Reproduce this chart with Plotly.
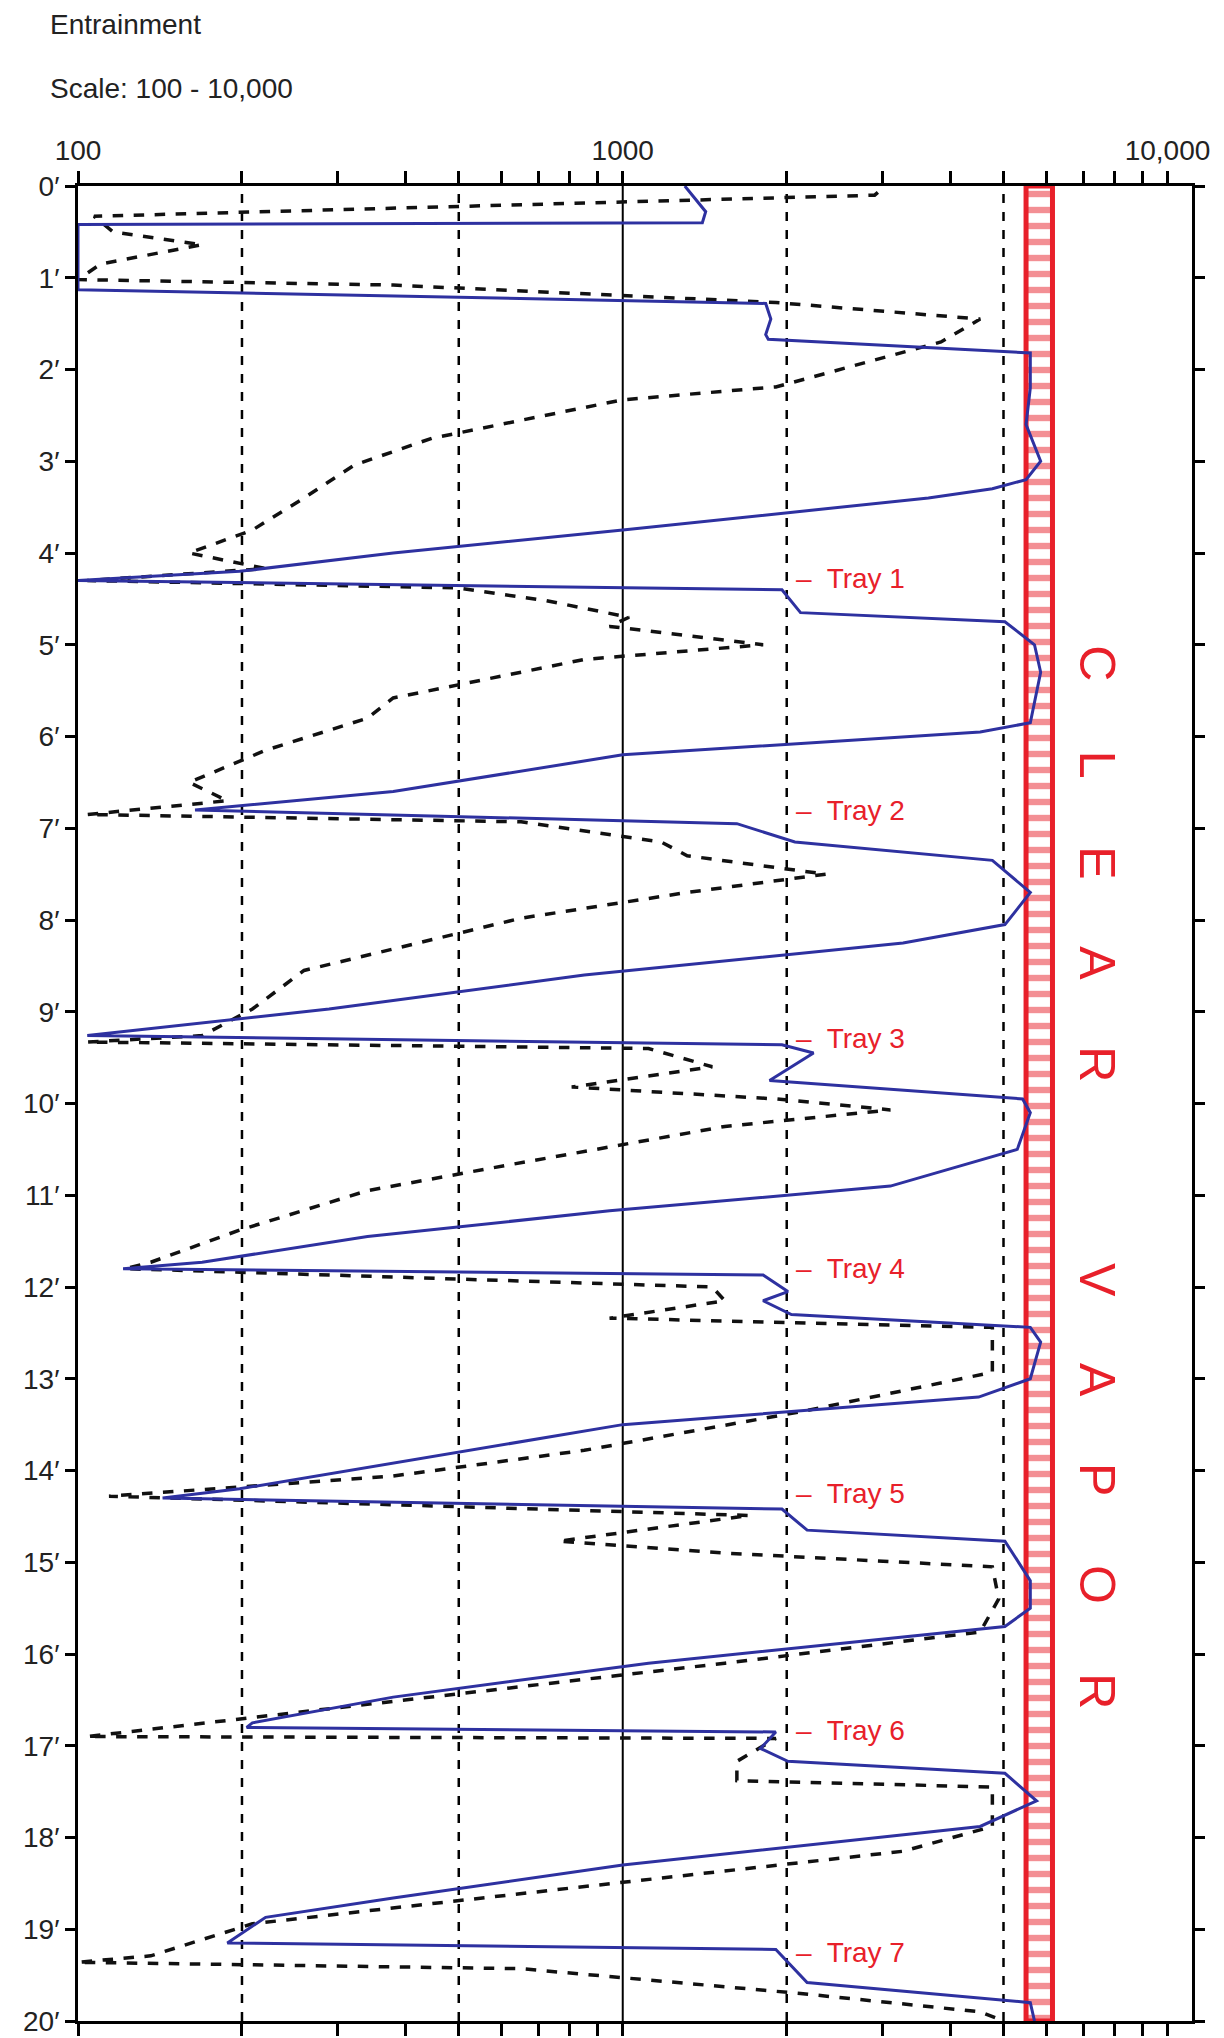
import plotly.graph_objects as go

# solid curve: depth (ft) and entrainment
solid_depth = [0.0, 0.28, 0.40, 0.42, 1.13, 1.28, 1.45, 1.62, 1.67, 1.82, 2.2, 2.6, 3.0, 3.2, 3.3,
               3.4, 3.75, 4.0, 4.2, 4.3, 4.4, 4.65, 4.75, 5.0, 5.3, 5.85, 5.95, 6.2, 6.6, 6.8,
               6.95, 7.15, 7.35, 7.7, 8.05, 8.25, 8.6, 8.97, 9.26, 9.36, 9.45, 9.75, 9.95, 10.1,
               10.5, 10.9, 11.17, 11.45, 11.73, 11.8, 11.87, 12.05, 12.15, 12.3, 12.44, 12.6, 13.0,
               13.2, 13.5, 13.85, 14.2, 14.3, 14.42, 14.65, 14.77, 15.2, 15.5, 15.7, 16.1, 16.47,
               16.75, 16.8, 16.85, 17.03, 17.17, 17.3, 17.6, 17.88, 18.3, 18.66, 18.87, 19.15,
               19.22, 19.58, 19.8, 20.0]
solid_vals = [1300, 1420, 1400, 100, 100, 1830, 1870, 1830, 1850, 5600, 5600, 5500, 5850, 5500, 4770,
              3640, 1000, 379, 198, 100, 1960, 2120, 5030, 5700, 5850, 5600, 4530, 1000, 379, 164,
              1620, 2070, 4770, 5600, 5030, 3270, 850, 289, 104, 1960, 2240, 1860, 5420, 5600,
              5300, 3100, 946, 340, 169, 121, 1810, 2010, 1810, 2040, 5600, 5850, 5600,
              4500, 1000, 446, 198, 143, 1960, 2180, 5030, 5600, 5600, 5030, 1115, 379,
              209, 204, 1910, 1790, 2010, 5030, 5750, 4530, 1000, 379, 221, 188,
              1910, 2180, 5600, 5700]

# dashed curve
dash_depth = [0.07, 0.1, 0.33, 0.5, 0.64, 0.85, 1.02, 1.08, 1.27, 1.45, 1.7, 2.19, 2.33, 2.75, 3.04,
              3.4, 3.75, 4.0, 4.17, 4.3, 4.38, 4.52, 4.7, 4.8, 5.0, 5.16, 5.58, 5.8, 6.15, 6.5,
              6.7, 6.85, 6.93, 7.15, 7.3, 7.5, 7.7, 7.98, 8.55, 8.97, 9.26, 9.33, 9.4, 9.6, 9.82,
              9.95, 10.07, 10.25, 10.67, 10.95, 11.38, 11.73, 11.8, 12.0, 12.15, 12.34, 12.44,
              12.93, 13.36, 13.78, 14.06, 14.28, 14.49, 14.77, 14.9, 15.05, 15.4, 15.76, 16.1,
              16.47, 16.9, 16.92, 17.17, 17.38, 17.45, 17.88, 18.15, 18.55, 18.94, 19.29, 19.36,
              19.43, 19.7, 19.9, 20.0]
dash_vals = [2940, 2900, 107, 116, 169, 110, 100, 379, 1910, 4530, 3840, 1910, 1000, 446, 322,
             260, 209, 160, 221, 104, 496, 724, 1027, 946, 1810, 850, 379, 340, 221, 160,
             188, 104, 651, 1177, 1313, 2360, 1313, 651, 260, 209, 169, 104, 1115, 1460, 806,
             1910, 3100, 1540, 617, 340, 198, 136, 122, 1460, 1540, 946, 4770,
             4770, 2120, 850, 379, 114, 1710, 763, 1540, 4770, 4900, 4530, 1540,
             446, 104, 1910, 1620, 1620, 4770, 4770, 3270, 806, 209, 136, 100,
             651, 2120, 4530, 5000]

tray_names = ["Tray 1", "Tray 2", "Tray 3", "Tray 4", "Tray 5", "Tray 6", "Tray 7"]
tray_depth = [4.28, 6.81, 9.29, 11.8, 14.25, 16.83, 19.25]

grid_dashed = [200, 500, 2000, 5000]
grid_solid = [1000]
vapor_low, vapor_high = 5500, 6150

x_ticks = [100, 200, 300, 400, 500, 600, 700, 800, 900, 1000, 2000, 3000, 4000, 5000,
           6000, 7000, 8000, 9000, 10000]
x_labels = ["100"] + [""] * 8 + ["1000"] + [""] * 8 + ["10,000"]
y_ticks = list(range(21))
y_labels = [f"{d}\u2032" for d in y_ticks]

FONT = "Liberation Sans, Arial, sans-serif"
RED = "#e8202a"

fig = go.Figure()

# clear vapor ladder column
fig.add_trace(go.Bar(
    y=[10], x=[vapor_high - vapor_low], base=[vapor_low], orientation="h", width=[20],
    marker=dict(color="white", line=dict(color=RED, width=5),
                pattern=dict(shape="-", fgcolor=RED, bgcolor="white", size=16, solidity=0.4)),
    showlegend=False, hoverinfo="skip",
))

fig.add_trace(go.Scatter(x=dash_vals, y=dash_depth, mode="lines",
                         line=dict(color="#111", width=3.5, dash="dash"), showlegend=False))
fig.add_trace(go.Scatter(x=solid_vals, y=solid_depth, mode="lines",
                         line=dict(color="#2e31a0", width=3), showlegend=False))

for gx in grid_dashed:
    fig.add_shape(type="line", xref="x", yref="paper", x0=gx, x1=gx, y0=0, y1=1,
                  line=dict(color="black", width=2.5, dash="dash"), layer="below")
for gx in grid_solid:
    fig.add_shape(type="line", xref="x", yref="paper", x0=gx, x1=gx, y0=0, y1=1,
                  line=dict(color="black", width=2), layer="below")

for name, d in zip(tray_names, tray_depth):
    fig.add_annotation(x=3.315, xref="x", y=d, text="\u2013  " + name, showarrow=False,
                       xanchor="left", font=dict(family=FONT, size=28, color=RED))

fig.add_annotation(x=3.87, xref="x", y=10.8,
                   text="C     L     E     A     R             V     A     P     O     R",
                   textangle=90, showarrow=False,
                   font=dict(family=FONT, size=50, color=RED))

fig.add_annotation(x=-0.027, y=1.088, xref="paper", yref="paper", yanchor="middle",
                   text="Entrainment", showarrow=False, xanchor="left",
                   font=dict(family=FONT, size=28, color="#222"))
fig.add_annotation(x=-0.027, y=1.053, xref="paper", yref="paper", yanchor="middle",
                   text="Scale: 100 - 10,000", showarrow=False, xanchor="left",
                   font=dict(family=FONT, size=28, color="#222"))

fig.update_layout(
    width=1224, height=2038,
    margin=dict(l=70, r=40, t=178, b=10),
    plot_bgcolor="white", paper_bgcolor="white",
    font=dict(family=FONT, size=28, color="#222"),
    barmode="overlay",
)
fig.update_xaxes(type="log", range=[2, 4.045], side="top", tickvals=x_ticks, ticktext=x_labels,
                 ticks="outside", ticklen=12, tickwidth=3, tickcolor="black",
                 showline=True, linecolor="black", linewidth=3, mirror="allticks",
                 showgrid=False, zeroline=False, tickfont=dict(size=28))
fig.update_yaxes(range=[20, 0], tickvals=y_ticks, ticktext=y_labels,
                 ticks="outside", ticklen=10, tickwidth=3, tickcolor="black",
                 showline=True, linecolor="black", linewidth=3, mirror="allticks",
                 showgrid=False, zeroline=False, tickfont=dict(size=28))

fig.write_html("out.html")
